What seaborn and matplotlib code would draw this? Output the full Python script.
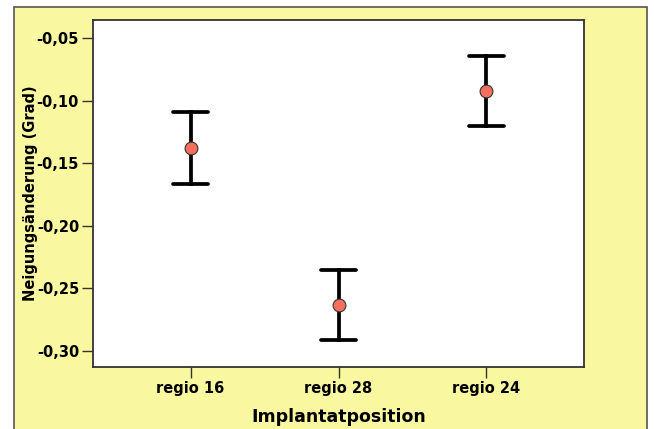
import matplotlib
matplotlib.use("Agg")
import matplotlib.pyplot as plt
from matplotlib.patches import Rectangle
from matplotlib.ticker import FuncFormatter, FixedLocator
import seaborn as sns
import pandas as pd

# Mean change of inclination per implant position with 95% CI bounds
positions = ["regio 16", "regio 28", "regio 24"]
means = [-0.138, -0.263, -0.092]
ci_low = [-0.167, -0.291, -0.120]
ci_high = [-0.109, -0.235, -0.064]
y_ticks = [-0.30, -0.25, -0.20, -0.15, -0.10, -0.05]

sns.set_theme(style="white")
plt.rcParams["font.family"] = ["DejaVu Sans"]
plt.rcParams["font.weight"] = "bold"
plt.rcParams["text.color"] = "black"
plt.rcParams["axes.labelcolor"] = "black"
plt.rcParams["xtick.labelcolor"] = "black"
plt.rcParams["ytick.labelcolor"] = "black"

# long-form table: lower bound, mean, upper bound per position
rows = []
for p, lo, m, hi in zip(positions, ci_low, means, ci_high):
    for v in (lo, m, hi):
        rows.append({"Implantatposition": p, "value": v})
df = pd.DataFrame(rows)

fig = plt.figure(figsize=(6.54, 4.29), dpi=100, facecolor="white")
fig.patches.append(Rectangle((14 / 654, -0.01), 633 / 654, 1.01 - 7 / 429,
                             transform=fig.transFigure, facecolor="#F9F79F",
                             edgecolor="#555555", linewidth=1.2, zorder=-5))
ax = fig.add_axes([93 / 654, 1 - 367 / 429, 491 / 654, 347 / 429])
ax.set_facecolor("white")

sns.pointplot(data=df, x="Implantatposition", y="value", order=positions,
              estimator="median", errorbar=lambda x: (x.min(), x.max()),
              linestyle="none", color="black", capsize=0.24,
              err_kws={"linewidth": 2.7}, marker="o", markersize=0, ax=ax)
sns.scatterplot(x=positions, y=means, s=85, color="#F56F5E",
                edgecolor="#333333", linewidth=0.8, zorder=5, ax=ax,
                legend=False)

ax.set_xlim(-0.66, 2.66)
ax.set_ylim(-0.3128, -0.0356)
ax.yaxis.set_major_locator(FixedLocator(y_ticks))
ax.yaxis.set_major_formatter(FuncFormatter(lambda v, _: f"{v:.2f}".replace(".", ",")))

for s in ax.spines.values():
    s.set_color("#333333")
    s.set_linewidth(1.3)
    s.set_visible(True)

ax.tick_params(axis="both", which="major", direction="out", length=8,
               width=1.0, color="#333333", labelsize=10.5, pad=2,
               labelcolor="black", bottom=True, left=True)
for lbl in ax.get_xticklabels() + ax.get_yticklabels():
    lbl.set_fontweight("bold")

ax.set_xlabel("Implantatposition", fontsize=12.5, fontweight="bold",
              labelpad=9, color="black")
ax.set_ylabel("Neigungsänderung (Grad)", fontsize=10.5, fontweight="bold",
              color="black")
ax.yaxis.set_label_coords(-0.112, 0.5)

fig.savefig("out.png", dpi=100, facecolor=fig.get_facecolor())
